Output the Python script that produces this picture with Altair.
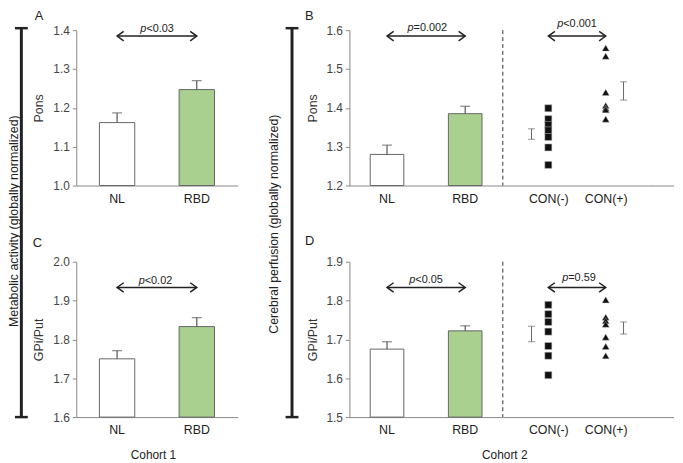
import altair as alt
import pandas as pd

FONT = "Liberation Sans"

# ---------------- data ----------------
groups = ["NL", "RBD"]
con_groups = ["CON(-)", "CON(+)"]

# Panel A: Cohort 1, Pons (metabolic activity)
a_mean = [1.162, 1.247]
a_upper = [1.187, 1.270]
# Panel B: Cohort 2, Pons (perfusion)
b_mean = [1.280, 1.385]
b_upper = [1.304, 1.404]
b_con_neg = [1.399, 1.371, 1.356, 1.342, 1.325, 1.298, 1.253]
b_con_pos = [1.554, 1.533, 1.440, 1.406, 1.399, 1.395, 1.371]
b_con_lo = [1.319, 1.420]
b_con_hi = [1.346, 1.467]
# Panel C: Cohort 1, GPi/Put
c_mean = [1.750, 1.833]
c_upper = [1.771, 1.856]
# Panel D: Cohort 2, GPi/Put
d_mean = [1.675, 1.722]
d_upper = [1.694, 1.735]
d_con_neg = [1.789, 1.765, 1.745, 1.720, 1.683, 1.658, 1.608]
d_con_pos = [1.802, 1.757, 1.748, 1.739, 1.706, 1.682, 1.658]
d_con_lo = [1.694, 1.714]
d_con_hi = [1.734, 1.745]

ticks_a = [1.0, 1.1, 1.2, 1.3, 1.4]
ticks_b = [1.2, 1.3, 1.4, 1.5, 1.6]
ticks_c = [1.6, 1.7, 1.8, 1.9, 2.0]
ticks_d = [1.5, 1.6, 1.7, 1.8, 1.9]

p_a, p_b, p_b_con = "p<0.03", "p=0.002", "p<0.001"
p_c, p_d, p_d_con = "p<0.02", "p<0.05", "p=0.59"

# ---------------- styling ----------------
H = 157
W_A = 163
W_GAP = 113
W_BL = 155
W_BR = 150
W_BR_AXIS = 173
AX = "#888"
INK = "#222"
GREEN = "#a9d08e"

one = pd.DataFrame({"k": [0]})


def twidth(s, size):
    w = {"p": 0.556, "<": 0.584, "=": 0.584, ".": 0.278}
    return sum(w.get(c, 0.556) for c in s) * size


def ptext(label, cx, by, size=11):
    xs = cx - twidth(label, size) / 2 + twidth("p", size)
    p = alt.Chart(one).mark_text(text="p", fontStyle="italic", align="right", baseline="alphabetic",
                                 fontSize=size, font=FONT, color=INK).encode(x=alt.value(xs), y=alt.value(by))
    r = alt.Chart(one).mark_text(text=label[1:], align="left", baseline="alphabetic",
                                 fontSize=size, font=FONT, color=INK).encode(x=alt.value(xs), y=alt.value(by))
    return [p, r]


def arrow(xl, xr, y):
    shaft = alt.Chart(one).mark_rule(color=INK, strokeWidth=1.5).encode(
        x=alt.datum(xl), x2=alt.datum(xr), y=alt.value(y))
    lh = alt.Chart(one).mark_point(shape="M1.4,-1L0,0L1.4,1", filled=False, size=90, color=INK,
                                   strokeWidth=1.5, opacity=1).encode(x=alt.datum(xl), y=alt.value(y))
    rh = alt.Chart(one).mark_point(shape="M-1.4,-1L0,0L-1.4,1", filled=False, size=90, color=INK,
                                   strokeWidth=1.5, opacity=1).encode(x=alt.datum(xr), y=alt.value(y))
    return [shaft, lh, rh]


def letter(t, x, y):
    return alt.Chart(one).mark_text(text=t, align="left", baseline="alphabetic", fontSize=13,
                                    font=FONT, color=INK).encode(x=alt.value(x), y=alt.value(y))


def xaxis():
    return alt.Axis(title=None, ticks=False, labelPadding=7, labelFontSize=12.5, labelAngle=0,
                    labelColor=INK, domainColor=AX)


def bar_panel(mean, upper, dom, ticks, ytitle, width, pin, pout, extra):
    df = pd.DataFrame({"group": groups, "mean": mean, "upper": upper})
    xs = alt.Scale(type="band", domain=groups, paddingInner=pin, paddingOuter=pout)
    ys = alt.Scale(domain=dom, nice=False, zero=False)
    yax = alt.Axis(values=ticks, format=".1f", tickSize=4, labelPadding=3, labelFontSize=12,
                   labelColor="#444", tickColor=AX, domainColor=AX, title=ytitle, titleFontSize=12.5,
                   titleFontWeight="normal", titleColor="#333", titlePadding=7)
    X = alt.X("group:N", scale=xs, axis=xaxis())
    base = alt.Chart(df)
    bars = base.mark_bar(stroke="#666", strokeWidth=1).encode(
        x=X,
        y=alt.Y("mean:Q", scale=ys, axis=yax),
        y2=alt.datum(dom[0]),
        color=alt.Color("group:N", scale=alt.Scale(domain=groups, range=["white", GREEN]), legend=None),
    )
    err = base.mark_rule(color="#555", strokeWidth=1.2).encode(
        x=X, y=alt.Y("mean:Q", scale=ys, axis=yax), y2="upper:Q")
    cap = base.mark_tick(color="#555", size=10, thickness=1.2).encode(
        x=X, y=alt.Y("upper:Q", scale=ys, axis=yax))
    return alt.layer(bars, err, cap, *extra).properties(width=width, height=H)


def con_panel(neg, pos, lo, hi, dom, extra):
    pts = pd.DataFrame({"group": ["CON(-)"] * len(neg) + ["CON(+)"] * len(pos), "v": neg + pos})
    eb = pd.DataFrame({"group": con_groups, "lo": lo, "hi": hi})
    xs = alt.Scale(type="point", domain=con_groups, padding=0.793)
    ys = alt.Scale(domain=dom, nice=False, zero=False)
    X = alt.X("group:N", scale=xs, axis=xaxis())
    sq = alt.Chart(pts).transform_filter(alt.datum.group == "CON(-)").mark_point(
        shape="square", filled=True, size=50, color="#111", stroke="#bbb", strokeWidth=0.5, opacity=1
    ).encode(x=X, y=alt.Y("v:Q", scale=ys, axis=None))
    tr = alt.Chart(pts).transform_filter(alt.datum.group == "CON(+)").mark_point(
        shape="triangle-up", filled=True, size=52, color="#111", stroke="#bbb", strokeWidth=0.4, opacity=1
    ).encode(x=X, y=alt.Y("v:Q", scale=ys, axis=None))
    layers = [sq, tr]
    for g, off in (("CON(-)", -17), ("CON(+)", 18)):
        e = alt.Chart(eb).transform_filter(alt.datum.group == g)
        layers.append(e.mark_rule(color="#666", strokeWidth=1, xOffset=off).encode(
            x=X, y=alt.Y("lo:Q", scale=ys, axis=None), y2="hi:Q"))
        layers.append(e.mark_tick(color="#666", size=7, thickness=1, xOffset=off).encode(
            x=X, y=alt.Y("lo:Q", scale=ys, axis=None)))
        layers.append(e.mark_tick(color="#666", size=7, thickness=1, xOffset=off).encode(
            x=X, y=alt.Y("hi:Q", scale=ys, axis=None)))
    dash = alt.Chart(one).mark_rule(color="#333", strokeWidth=1, strokeDash=[4, 3]).encode(
        x=alt.value(0), y=alt.value(0), y2=alt.value(H))
    ext = alt.Chart(one).mark_rule(color=AX, strokeWidth=1).encode(
        x=alt.value(W_BR), x2=alt.value(W_BR_AXIS), y=alt.value(H + 0.5))
    return alt.layer(*layers, dash, ext, *extra).properties(width=W_BR, height=H)


def bracket(x, label, lx, ly):
    v = alt.Chart(one).mark_rule(color=INK, strokeWidth=3).encode(
        x=alt.value(x), y=alt.value(-2), y2=alt.value(391))
    c1 = alt.Chart(one).mark_rule(color=INK, strokeWidth=2.5).encode(
        x=alt.value(x - 6.5), x2=alt.value(x + 6.5), y=alt.value(-2))
    c2 = alt.Chart(one).mark_rule(color=INK, strokeWidth=2.5).encode(
        x=alt.value(x - 6.5), x2=alt.value(x + 6.5), y=alt.value(391))
    t = alt.Chart(one).mark_text(text=label, angle=270, align="center", baseline="middle", fontSize=12.5,
                                 font=FONT, color=INK).encode(x=alt.value(lx), y=alt.value(ly))
    return [v, c1, c2, t]


def cohort(t, x):
    return alt.Chart(one).mark_text(text=t, align="center", baseline="alphabetic", fontSize=12,
                                    font=FONT, color=INK).encode(x=alt.value(x), y=alt.value(199))


def spacer():
    return alt.Chart(one).mark_text(text="").encode(x=alt.value(0), y=alt.value(0)).properties(
        width=W_GAP, height=H)


A = bar_panel(a_mean, a_upper, [1.0, 1.4], ticks_a, "Pons", W_A, 0.556, 0.29,
              arrow("NL", "RBD", 6) + ptext(p_a, 81.7, 2) + [letter("A", -42, -10)]
              + bracket(-55.5, "Metabolic activity (globally normalized)", -63, 193))
BL = bar_panel(b_mean, b_upper, [1.2, 1.6], ticks_b, "Pons", W_BL, 0.57, 0.266,
               arrow("NL", "RBD", 6) + ptext(p_b, 78.7, 1) + [letter("B", -45, -10)]
               + bracket(-58, "Cerebral perfusion (globally normalized)", -76, 196))
BR = con_panel(b_con_neg, b_con_pos, b_con_lo, b_con_hi, [1.2, 1.6],
               arrow("CON(-)", "CON(+)", 6) + ptext(p_b_con, 75, -3))
C = bar_panel(c_mean, c_upper, [1.6, 2.0], ticks_c, "GPi/Put", W_A, 0.556, 0.29,
              arrow("NL", "RBD", 26) + ptext(p_c, 80, 22.5) + [letter("C", -44, -15), cohort("Cohort 1", 78)])
DL = bar_panel(d_mean, d_upper, [1.5, 1.9], ticks_d, "GPi/Put", W_BL, 0.57, 0.266,
               arrow("NL", "RBD", 26) + ptext(p_d, 77.5, 21.5) + [letter("D", -45, -17), cohort("Cohort 2", 157)])
DR = con_panel(d_con_neg, d_con_pos, d_con_lo, d_con_hi, [1.5, 1.9],
               arrow("CON(-)", "CON(+)", 26) + ptext(p_d_con, 77, 19))

chart = (
    alt.concat(A, spacer(), BL, BR, C, spacer(), DL, DR, columns=4,
               spacing={"row": 77, "column": 0}, bounds="flush")
    .properties(padding=0)
    .configure(font=FONT)
    .configure_view(stroke=None)
    .configure_axis(grid=False, labelFont=FONT, titleFont=FONT)
)

chart.save("out.html", embed_options={"renderer": "svg", "actions": False})
